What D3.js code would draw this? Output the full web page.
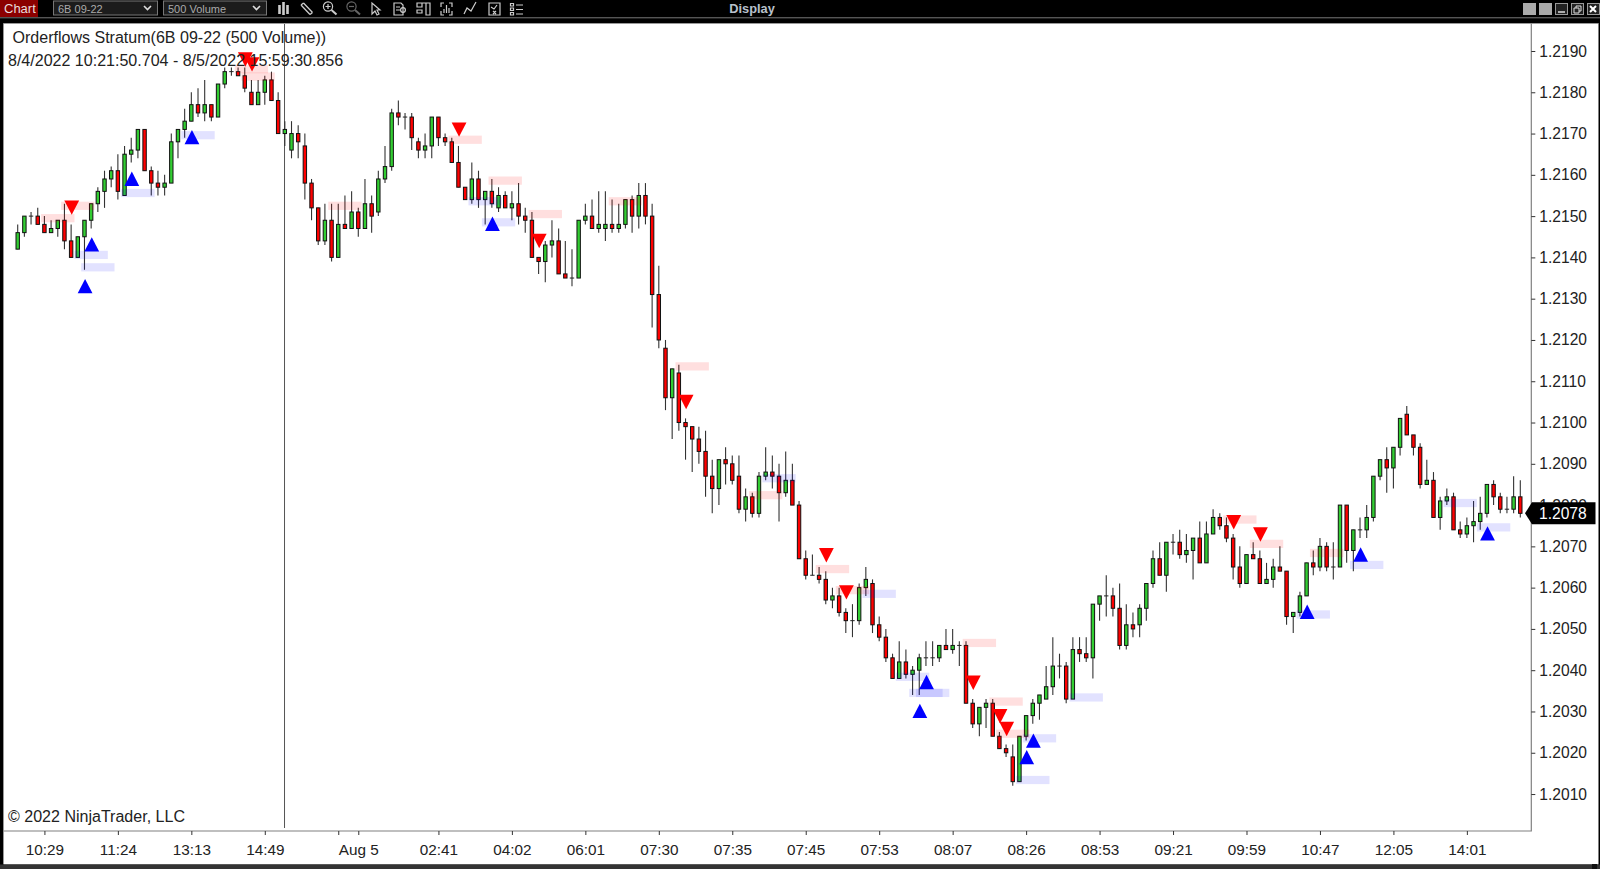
<!DOCTYPE html>
<html><head><meta charset="utf-8">
<script src="https://cdn.jsdelivr.net/npm/d3@7/dist/d3.min.js"></script>
<style>html,body{margin:0;padding:0;background:#000;overflow:hidden}svg{display:block}text{font-family:"Liberation Sans",Arial,sans-serif}</style>
</head><body><svg id="c" width="1600" height="869"></svg>
<script>
// Prices are in 1/10000 units (12190 = 1.2190)
const open=[12142,12146,12150,12150,12148,12146,12147,12149,12144,12140,12145,12149,12153,12156,12159,12161,12155,12165,12166,12171,12161,12158,12157,12158,12168,12171,12173,12177,12175,12177,12174,12182,12185,12185,12184,12180,12177,12180,12183,12178,12170,12166,12170,12167,12158,12152,12144,12149,12140,12148,12147,12151,12147,12153,12151,12159,12162,12175,12174,12174,12168,12166,12167,12174,12169,12168,12163,12157,12154,12159,12154,12156,12152,12155,12152,12153,12150,12149,12140,12139,12143,12144,12136,12135,12135,12149,12150,12147,12147,12148,12147,12148,12154,12150,12155,12150,12131,12118,12106,12112,12100,12099,12096,12093,12087,12084,12091,12090,12087,12079,12082,12078,12087,12088,12087,12083,12086,12080,12067,12063,12063,12062,12057,12058,12054,12052,12052,12060,12061,12051,12048,12043,12038,12042,12039,12040,12043,12043,12043,12046,12045,12046,12046,12032,12027,12031,12032,12024,12021,12019,12013,12024,12029,12032,12033,12036,12041,12041,12033,12045,12044,12043,12056,12058,12058,12055,12046,12051,12051,12055,12061,12067,12063,12071,12071,12068,12069,12072,12066,12073,12077,12075,12072,12065,12061,12068,12067,12061,12062,12065,12064,12053,12054,12058,12066,12065,12070,12065,12065,12080,12069,12074,12074,12077,12087,12091,12089,12094,12102,12097,12094,12085,12086,12077,12081,12082,12074,12073,12075,12076,12078,12085,12082,12079,12079,12082];
const high=[12148,12150,12151,12152,12150,12149,12149,12153,12148,12145,12149,12153,12157,12161,12162,12165,12167,12169,12171,12171,12162,12161,12160,12170,12171,12176,12180,12181,12183,12177,12182,12186,12186,12186,12186,12183,12183,12184,12185,12180,12173,12173,12172,12170,12159,12152,12153,12153,12153,12155,12156,12152,12159,12155,12161,12167,12176,12178,12175,12175,12169,12170,12174,12174,12170,12169,12167,12157,12163,12161,12156,12159,12157,12156,12156,12158,12152,12151,12140,12144,12149,12147,12144,12142,12149,12153,12154,12156,12156,12154,12153,12154,12155,12158,12158,12153,12138,12120,12113,12114,12101,12099,12099,12098,12091,12091,12094,12092,12092,12084,12083,12088,12094,12092,12090,12093,12090,12081,12069,12068,12065,12064,12060,12060,12055,12056,12061,12065,12062,12053,12050,12044,12047,12045,12041,12044,12047,12047,12046,12050,12050,12047,12047,12033,12031,12033,12033,12025,12022,12022,12024,12029,12033,12034,12041,12048,12044,12042,12048,12048,12048,12056,12058,12063,12060,12061,12056,12054,12056,12061,12069,12071,12071,12073,12074,12073,12072,12076,12076,12079,12078,12077,12073,12070,12068,12071,12069,12066,12067,12070,12064,12054,12059,12066,12069,12072,12071,12071,12080,12080,12074,12077,12080,12087,12091,12094,12094,12101,12104,12097,12095,12091,12088,12082,12084,12083,12076,12077,12081,12082,12085,12086,12083,12082,12087,12086];
const low=[12142,12145,12148,12148,12146,12146,12145,12142,12140,12140,12137,12147,12151,12152,12157,12154,12155,12163,12164,12161,12155,12155,12155,12158,12164,12169,12173,12174,12173,12173,12174,12181,12184,12184,12180,12177,12177,12177,12178,12170,12167,12164,12164,12154,12149,12143,12143,12139,12140,12147,12147,12145,12147,12146,12150,12158,12161,12172,12171,12166,12164,12164,12164,12167,12167,12163,12157,12154,12153,12152,12148,12152,12151,12152,12149,12148,12146,12140,12136,12134,12140,12136,12135,12133,12135,12148,12147,12146,12144,12146,12146,12147,12146,12147,12148,12123,12118,12103,12096,12098,12091,12088,12090,12082,12078,12080,12085,12085,12078,12076,12077,12077,12086,12084,12076,12082,12080,12067,12062,12063,12061,12056,12055,12053,12049,12048,12051,12058,12049,12047,12042,12038,12038,12038,12034,12034,12041,12041,12042,12045,12044,12041,12032,12026,12024,12026,12024,12021,12019,12012,12013,12023,12027,12028,12033,12034,12038,12032,12033,12042,12042,12038,12052,12053,12053,12045,12045,12048,12048,12052,12060,12063,12059,12068,12067,12066,12062,12066,12066,12073,12074,12071,12062,12060,12061,12067,12061,12061,12060,12064,12051,12049,12053,12058,12063,12064,12064,12062,12065,12066,12064,12072,12072,12076,12086,12083,12084,12092,12097,12092,12084,12085,12077,12074,12080,12074,12072,12072,12071,12074,12077,12080,12078,12078,12078,12077];
const close=[12146,12150,12150,12148,12146,12147,12149,12144,12140,12145,12149,12153,12156,12159,12161,12156,12165,12166,12171,12161,12158,12157,12158,12168,12171,12173,12177,12175,12177,12174,12182,12185,12185,12184,12181,12177,12180,12183,12178,12170,12171,12170,12168,12158,12152,12144,12149,12140,12148,12147,12151,12147,12153,12150,12159,12162,12175,12174,12174,12169,12166,12167,12174,12169,12168,12163,12157,12154,12159,12154,12156,12153,12155,12152,12153,12150,12149,12140,12139,12143,12144,12136,12135,12135,12149,12150,12147,12148,12148,12147,12148,12154,12150,12155,12150,12131,12120,12106,12113,12100,12099,12096,12093,12087,12084,12091,12090,12086,12079,12082,12078,12087,12088,12087,12083,12086,12080,12067,12063,12063,12062,12057,12058,12054,12052,12052,12060,12062,12051,12048,12043,12038,12042,12039,12040,12043,12043,12043,12046,12045,12046,12046,12032,12027,12031,12032,12024,12021,12020,12013,12024,12029,12032,12034,12036,12041,12041,12033,12045,12044,12043,12056,12058,12058,12055,12046,12051,12050,12055,12061,12067,12063,12071,12071,12068,12069,12072,12066,12073,12077,12075,12072,12065,12061,12068,12067,12061,12062,12065,12064,12053,12054,12058,12066,12065,12070,12065,12065,12080,12069,12074,12074,12077,12087,12091,12089,12094,12101,12097,12094,12085,12086,12077,12081,12082,12074,12073,12075,12076,12078,12085,12082,12079,12079,12082,12078];

// axis labels
const priceTicks=[12010,12020,12030,12040,12050,12060,12070,12080,12090,12100,12110,12120,12130,12140,12150,12160,12170,12180,12190];
const timeBars=[4,15,26,37,48,51,63,74,85,96,107,118,129,140,151,162,173,184,195,206,217];
const timeLabels=["10:29","11:24","13:13","14:49","","Aug 5","02:41","04:02","06:01","07:30","07:35","07:45","07:53","08:07","08:26","08:53","09:21","09:59","10:47","12:05","14:01"];
const lastPrice=12078;
const cursorBar=40;

// signal markers
const sellBars=[8,34,35,66,78,100,121,124,143,147,148,182,186];
const sellPrices=[12153.8,12189.7,12188.5,12172.7,12145.7,12106.7,12069.6,12060.6,12038.7,12030.6,12027.5,12077.6,12074.6];
const buyBars=[11,10,17,26,71,136,135,152,151,193,201,220];
const buyPrices=[12141.4,12131.3,12157.3,12167.4,12146.4,12035.4,12028.4,12021.2,12017.2,12052.4,12066.3,12071.4];

// imbalance zones: first bar, centre price
const redZoneBars=[4,7,33,34,47,65,71,77,89,99,110,120,123,142,146,147,181,185,194];
const redZonePrices=[12149.5,12152.5,12185.6,12183.8,12152.5,12168.5,12158.6,12150.5,12153.6,12113.6,12082.4,12064.5,12059.4,12046.6,12032.4,12024.6,12076.5,12070.6,12068.4];
const blueZoneBars=[9,10,16,25,68,70,112,127,132,134,135,158,151,150,192,200,214,219];
const blueZonePrices=[12140.6,12137.6,12155.6,12169.6,12153.6,12148.5,12086.5,12058.5,12038.4,12034.5,12034.5,12033.4,12023.5,12013.4,12053.5,12065.5,12080.5,12074.6];

const svg=d3.select("#c");
const W=1600,H=869;
const x=d3.scaleLinear().domain([0,225]).range([17.7,1520.3]);
const y=d3.scaleLinear().domain([12190,12010]).range([51,794.04]);
const axisX=1531.3,axisY=831;

svg.append("rect").attr("width",W).attr("height",H).attr("fill","#000");
svg.append("rect").attr("x",3.5).attr("y",23.5).attr("width",1595).attr("height",841).attr("fill","#fff");
svg.append("path").attr("d",`M3.5 864V23.5H1598.5`).attr("fill","none").attr("stroke","#999").attr("stroke-width",1);
svg.append("rect").attr("x",0).attr("y",864.5).attr("width",W).attr("height",5).attr("fill","#333");
svg.append("rect").attr("x",1592).attr("y",864).attr("width",5).attr("height",5).attr("fill","#111");

// toolbar
const tb=svg.append("g");
tb.append("rect").attr("x",0).attr("y",17).attr("width",W).attr("height",1.4).attr("fill","#555");
tb.append("rect").attr("width",38).attr("height",17).attr("fill","#8b0000");
tb.append("text").attr("x",4).attr("y",13).attr("font-size",13).attr("fill","#e8dcdc").text("Chart");
[[53,104,"6B 09-22"],[163,103,"500 Volume"]].forEach(([bx,bw,t])=>{
  tb.append("rect").attr("x",bx+.5).attr("y",1).attr("width",bw).attr("height",14).attr("fill","#1c1c1c").attr("stroke","#777");
  tb.append("text").attr("x",bx+5).attr("y",12.5).attr("font-size",11).attr("fill","#aaa").text(t);
  tb.append("path").attr("d",`M${bx+bw-13} 6l3.5 3.5l3.5-3.5`).attr("fill","none").attr("stroke","#ddd").attr("stroke-width",1.6);
});
tb.append("text").attr("x",752).attr("y",12.5).attr("text-anchor","middle").attr("font-size",12.8).attr("font-weight","bold").attr("fill","#b8c0cc").text("Display");
[1523,1539].forEach(bx=>tb.append("rect").attr("x",bx).attr("y",3).attr("width",13).attr("height",12).attr("fill","#aaa"));
[1555,1571,1587].forEach(bx=>tb.append("rect").attr("x",bx+.5).attr("y",3.5).attr("width",12).attr("height",11).attr("fill","#222").attr("stroke","#999"));
tb.append("path").attr("d","M1558 12h7").attr("stroke","#ddd").attr("stroke-width",1.5);
tb.append("path").attr("d","M1574 8h5v5h-5zM1576 8v-2h5v5h-2").attr("fill","none").attr("stroke","#ddd");
tb.append("path").attr("d","M1590 6l6 6M1596 6l-6 6").attr("stroke","#fff").attr("stroke-width",2);
// toolbar icons
const ic=tb.append("g").attr("stroke","#ccc").attr("fill","none").attr("stroke-width",1.2);
ic.append("path").attr("d","M279.5 5v9M283.5 2v13M287.5 5v9").attr("stroke-width",2.6);
ic.append("path").attr("d","M301 5l9 9.5M303.5 3l9 9.5M301 5l2.5-2M310 14.5l2.5-2").attr("stroke-width",1.3);
ic.append("circle").attr("cx",328).attr("cy",6.5).attr("r",4.6);
ic.append("path").attr("d","M331.5 10l5 4.5").attr("stroke-width",2);
ic.append("path").attr("d","M325.5 6.5h5M328 4v5");
ic.append("circle").attr("cx",351.5).attr("cy",6.5).attr("r",4.6).attr("stroke","#666");
ic.append("path").attr("d","M355 10l5 4.5").attr("stroke","#666").attr("stroke-width",2);
ic.append("path").attr("d","M349 6.5h5").attr("stroke","#666");
ic.append("path").attr("d","M372 3v11l3-3l2 4l2-1l-2-4h3z");
ic.append("path").attr("d","M394 3h7l2 2v10h-9zM396 7h4M396 10h4");
ic.append("circle").attr("cx",403).attr("cy",10).attr("r",2.4);
ic.append("path").attr("d","M417 3h13v12h-4v-12M417 3h5v4h-5zM417 10h5v3h-5z");
ic.append("path").attr("d","M441 7v-4h3M452 7v-4h-3M441 11v4h3M452 11v4h-3M444 13v-4M446.5 13v-8M449 13v-5");
ic.append("path").attr("d","M464 14l3-6l4 3l5-9");
ic.append("path").attr("d","M489 3h11v12h-11zM491 7l3 2l3-4M493 11l3 3M496 11l-3 3");
ic.append("path").attr("d","M510.5 3.5h3v2.5h-3zM510.5 8h3v2.5h-3zM510.5 12.5h3v2.5h-3zM516 5h7M516 9.5h7M516 14h7");

// frame and axes
svg.append("path").attr("d",`M3.5 ${axisY}H${axisX}V23.5`).attr("fill","none").attr("stroke","#808080").attr("stroke-width",1.2);

const yAxis=svg.append("g").attr("transform",`translate(${axisX},0)`)
  .call(d3.axisRight(y).tickValues(priceTicks).tickSize(4).tickPadding(4).tickFormat(d=>(d/10000).toFixed(4)));
yAxis.select(".domain").remove();
yAxis.selectAll("text").attr("font-size",15.6).attr("font-family","Liberation Sans").attr("fill","#222");
yAxis.selectAll("line").attr("stroke","#333");

const xAxis=svg.append("g").attr("transform",`translate(0,${axisY})`)
  .call(d3.axisBottom(x).tickValues(timeBars).tickSize(4).tickPadding(9).tickFormat((d,i)=>timeLabels[i]));
xAxis.select(".domain").remove();
xAxis.selectAll("text").attr("font-size",15.3).attr("font-family","Liberation Sans").attr("fill","#222");
xAxis.selectAll("line").attr("stroke","#333");

// cursor line
svg.append("line").attr("x1",x(cursorBar)-.3).attr("x2",x(cursorBar)-.3).attr("y1",24).attr("y2",828).attr("stroke","#555").attr("stroke-width",1);

// candles
const bars=d3.range(open.length);
const g=svg.append("g");
g.selectAll("line.wick").data(bars).join("line").attr("class","wick")
  .attr("x1",i=>x(i)).attr("x2",i=>x(i)).attr("y1",i=>y(high[i])).attr("y2",i=>y(low[i]))
  .attr("stroke","#333").attr("stroke-width",1.1);
g.selectAll("rect.body").data(bars.filter(i=>open[i]!==close[i])).join("rect").attr("class","body")
  .attr("x",i=>x(i)-1.7).attr("width",3.4)
  .attr("y",i=>y(Math.max(open[i],close[i]))).attr("height",i=>Math.abs(y(open[i])-y(close[i])))
  .attr("fill",i=>close[i]>open[i]?"#32cd32":"#ff0000").attr("stroke","#111").attr("stroke-width",1);
g.selectAll("line.doji").data(bars.filter(i=>open[i]===close[i])).join("line").attr("class","doji")
  .attr("x1",i=>x(i)-2.2).attr("x2",i=>x(i)+2.2).attr("y1",i=>y(open[i])).attr("y2",i=>y(open[i]))
  .attr("stroke","#222").attr("stroke-width",1);

// zones (translucent, drawn above the candles)
const barStep=x(1)-x(0), zoneBars=5, zoneTicks=2;
function zones(b,p,col){
  svg.append("g").selectAll("rect").data(b).join("rect")
   .attr("x",d=>x(d)-barStep/2).attr("width",barStep*zoneBars)
   .attr("y",(d,i)=>y(p[i]+zoneTicks/2)).attr("height",y(0)-y(zoneTicks))
   .attr("fill",col);
}
zones(redZoneBars,redZonePrices,"rgba(255,0,0,0.125)");
zones(blueZoneBars,blueZonePrices,"rgba(0,0,255,0.115)");

// triangles
const triW=14.8,triH=14.4;
svg.append("g").selectAll("path").data(sellBars).join("path")
  .attr("d",(d,i)=>{const cx=x(d)+.6,t=y(sellPrices[i]);return `M${cx-triW/2} ${t}H${cx+triW/2}L${cx} ${t+triH}Z`;}).attr("fill","#ff0000");
svg.append("g").selectAll("path").data(buyBars).join("path")
  .attr("d",(d,i)=>{const cx=x(d)+.6,b=y(buyPrices[i]);return `M${cx-triW/2} ${b}H${cx+triW/2}L${cx} ${b-triH}Z`;}).attr("fill","#0000ff");

// texts
const ts=svg.append("g").attr("fill","#222").attr("font-size",16.05);
ts.append("text").attr("x",12.5).attr("y",43.3).text("Orderflows Stratum(6B 09-22 (500 Volume))");
ts.append("text").attr("x",8).attr("y",65.5).text("8/4/2022 10:21:50.704 - 8/5/2022 15:59:30.856");
ts.append("text").attr("x",8).attr("y",821.5).text("© 2022 NinjaTrader, LLC");

// last price flag
const ly=y(lastPrice);
svg.append("path").attr("d",`M1525 ${ly}L1532 ${ly-11}H1595.5V${ly+11}H1532Z`).attr("fill","#000");
svg.append("text").attr("x",1539).attr("y",ly+5.6).attr("font-size",15.6).attr("fill","#fff").text((lastPrice/10000).toFixed(4));
</script></body></html>
